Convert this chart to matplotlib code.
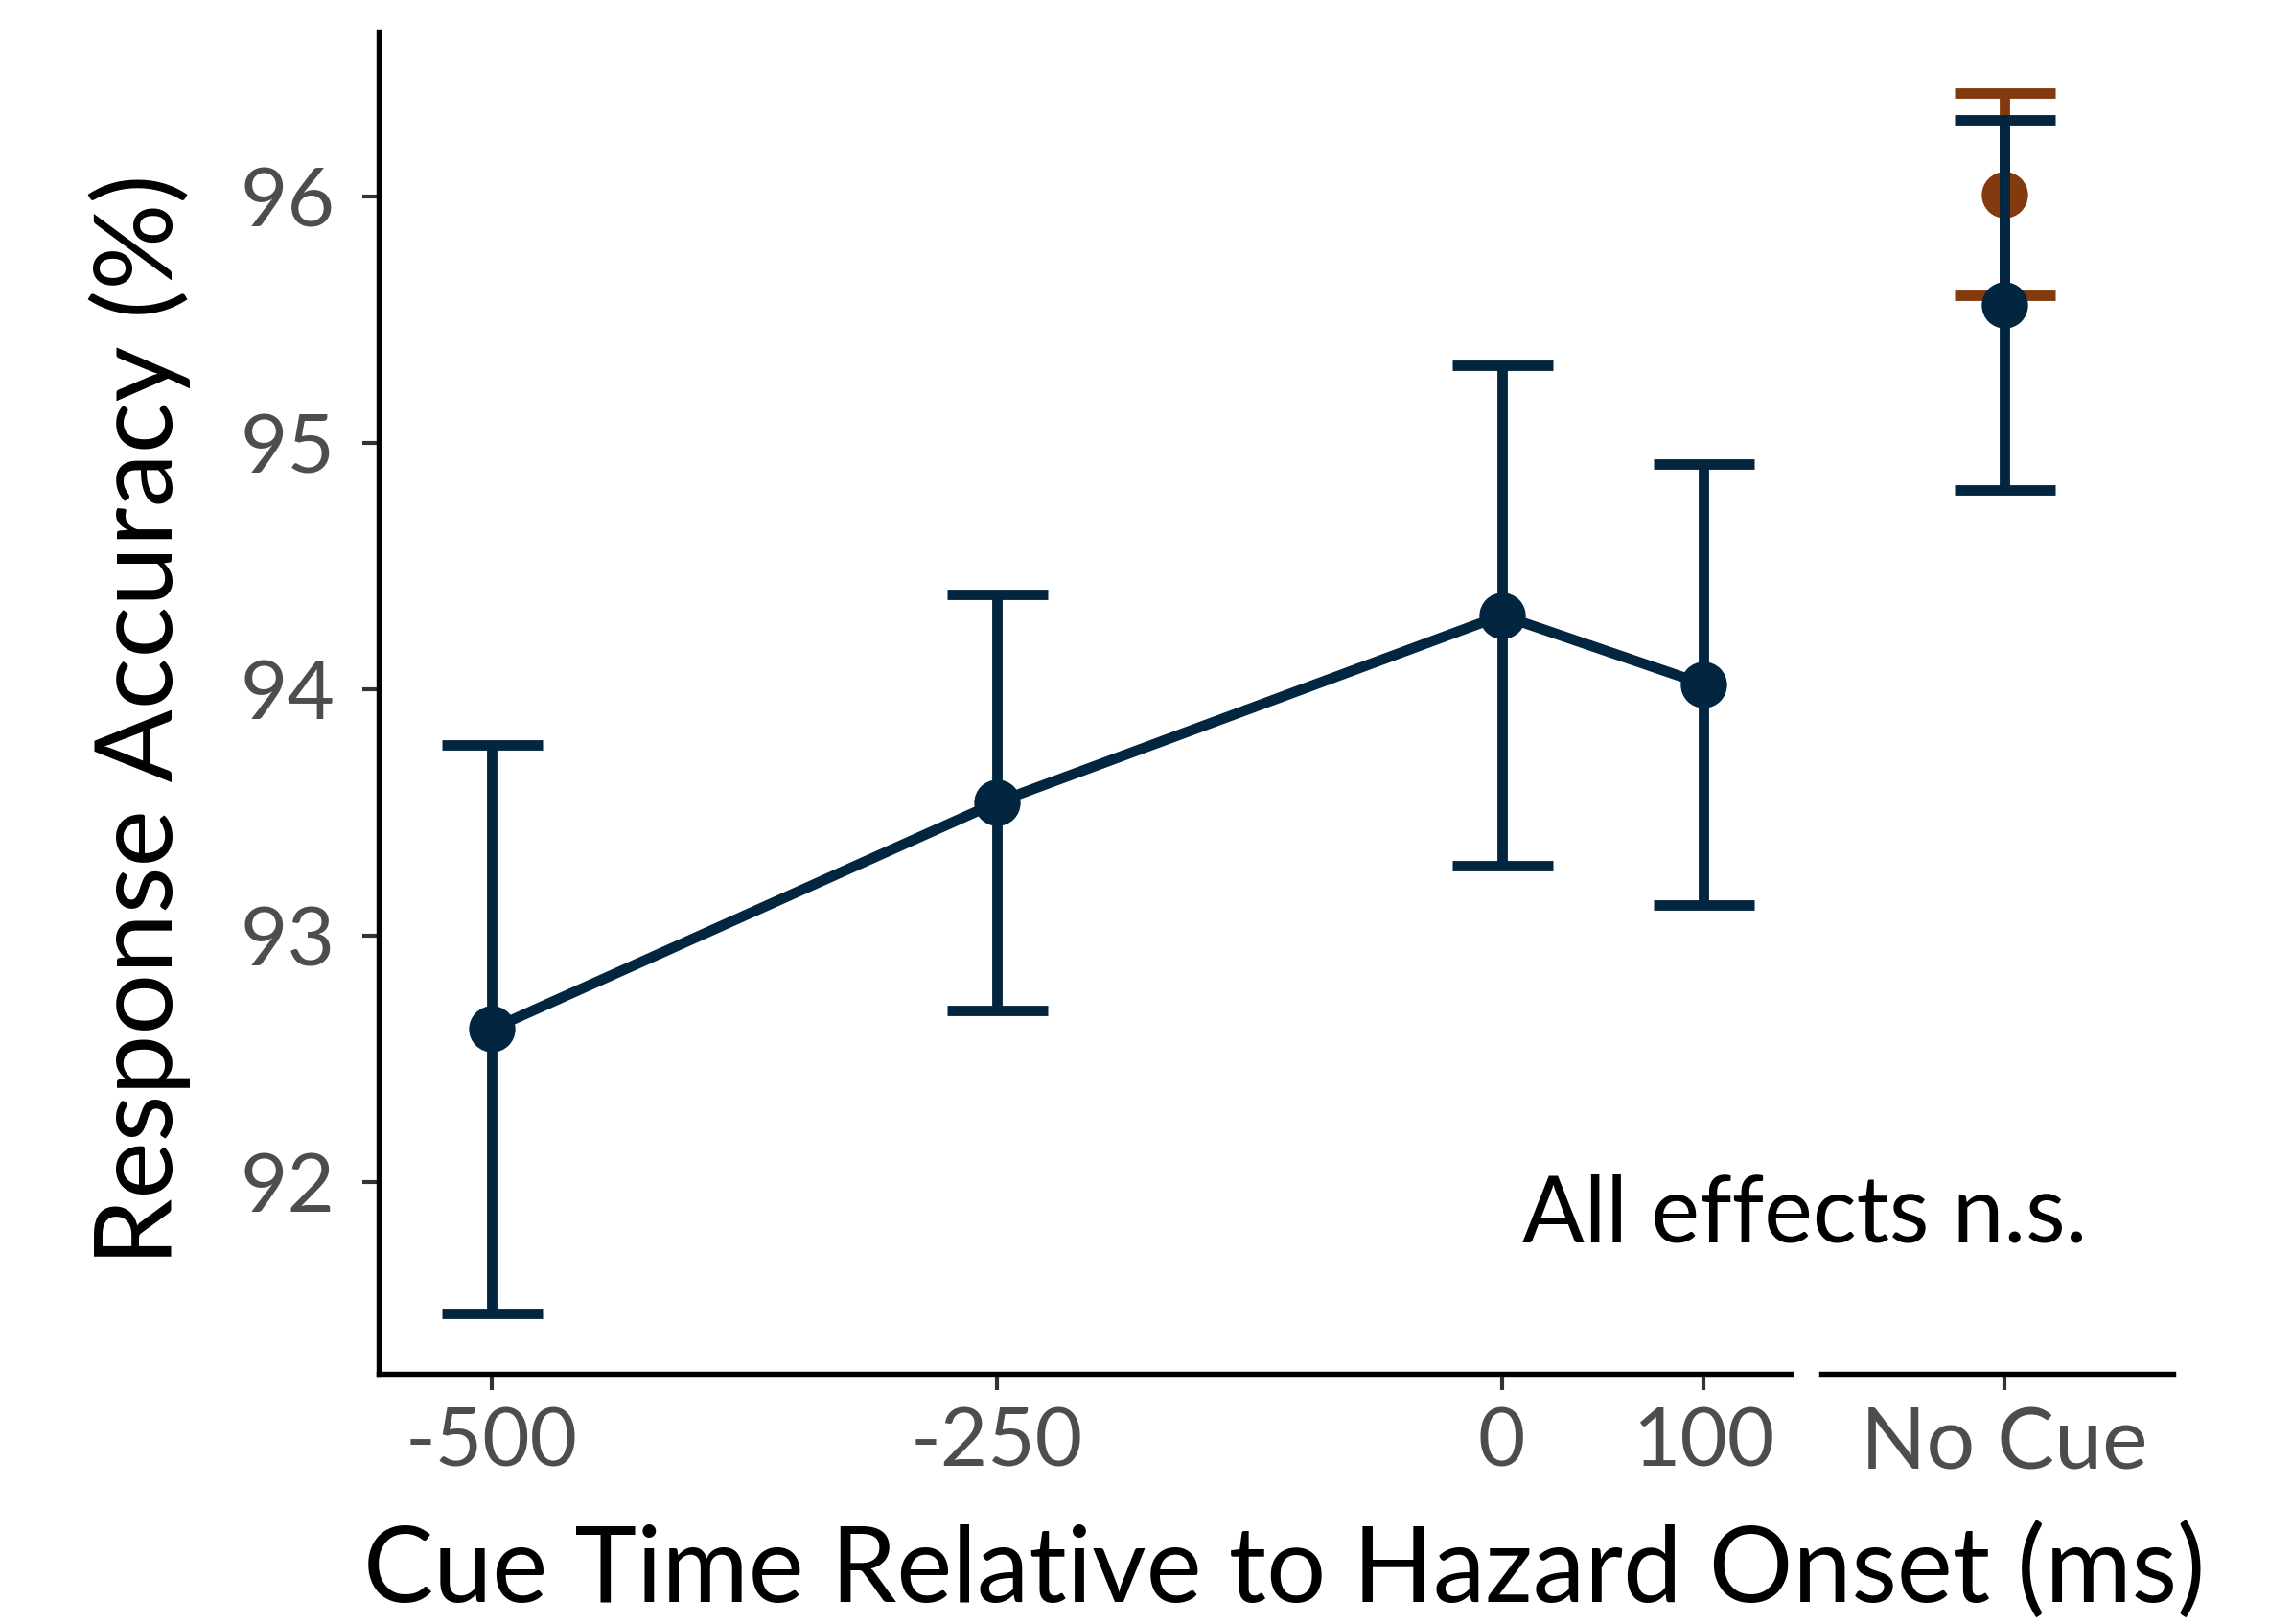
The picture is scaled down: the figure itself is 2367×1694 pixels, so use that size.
import matplotlib
matplotlib.use('Agg')
import matplotlib.pyplot as plt

# cue conditions (ms relative to hazard onset)
cue_times = [-500, -250, 0, 100]
acc_mean = [92.62, 93.54, 94.30, 94.02]
acc_se = [1.155, 0.845, 1.015, 0.895]

# no cue condition, two groups
nocue_label = ['No Cue']
nocue_orange_mean = [96.01]
nocue_orange_se = [0.41]
nocue_navy_mean = [95.56]
nocue_navy_se = [0.75]

y_ticks = [92, 93, 94, 95, 96]

navy = '#02263F'
orange = '#833A0E'
tick_grey = '#4D4D4D'

plt.rcParams['font.family'] = ['Lato', 'DejaVu Sans']

W, H = 2367, 1694
fig = plt.figure(figsize=(W / 300, H / 300), dpi=300)

def box(x0, x1, y0, y1):
    return [x0 / W, 1 - y1 / H, (x1 - x0) / W, (y1 - y0) / H]

ax_0 = fig.add_axes(box(395, 1868, 33, 1433))
ax_1 = fig.add_axes(box(1900, 2267, 33, 1433), sharey=ax_0)

eb_kw = dict(fmt='o', ms=10.6, lw=2.6, capsize=12.6, capthick=2.6)

# ax_0 : cue conditions
ax_0.plot(cue_times, acc_mean, color=navy, lw=2.6, zorder=2)
ax_0.errorbar(cue_times, acc_mean, yerr=acc_se, color=navy, zorder=3, **eb_kw)
ax_0.set_xlim(-556, 143)
ax_0.set_ylim(91.22, 96.67)
ax_0.set_xticks(cue_times)
ax_0.set_xticklabels([str(t) for t in cue_times])
ax_0.set_yticks(y_ticks)
ax_0.set_yticklabels([str(t) for t in y_ticks])
for s in ['top', 'right']:
    ax_0.spines[s].set_visible(False)

# ax_1 : no cue
ax_1.errorbar([0], nocue_orange_mean, yerr=nocue_orange_se, color=orange, zorder=2, **eb_kw)
ax_1.errorbar([0], nocue_navy_mean, yerr=nocue_navy_se, color=navy, zorder=3, **eb_kw)
ax_1.set_xlim(-0.52, 0.48)
ax_1.set_xticks([0])
ax_1.set_xticklabels(nocue_label)
for s in ['top', 'right', 'left']:
    ax_1.spines[s].set_visible(False)
ax_1.tick_params(axis='y', left=False, labelleft=False)

for ax in (ax_0, ax_1):
    for s in ax.spines.values():
        s.set_linewidth(1.3)
        s.set_color('black')
    ax.tick_params(length=4, width=1.0, color='#333333', labelcolor=tick_grey,
                   labelsize=20.5)
    ax.tick_params(axis='x', pad=4)
    ax.tick_params(axis='y', pad=7)
ax_1.tick_params(axis='x', labelsize=21.5)

fig.text(1340 / W, 1 - 1672 / H, 'Cue Time Relative to Hazard Onset (ms)',
         ha='center', va='baseline', fontsize=26.3, color='black')
fig.text(146 / W, 1 - 751 / H, 'Response Accuracy (%)', rotation=90,
         ha='center', va='center', fontsize=27, color='black')
fig.text(2177 / W, 1 - 1295 / H, 'All effects n.s.', ha='right', va='baseline',
         fontsize=23, color='black')

fig.savefig('out.png', dpi=300)
